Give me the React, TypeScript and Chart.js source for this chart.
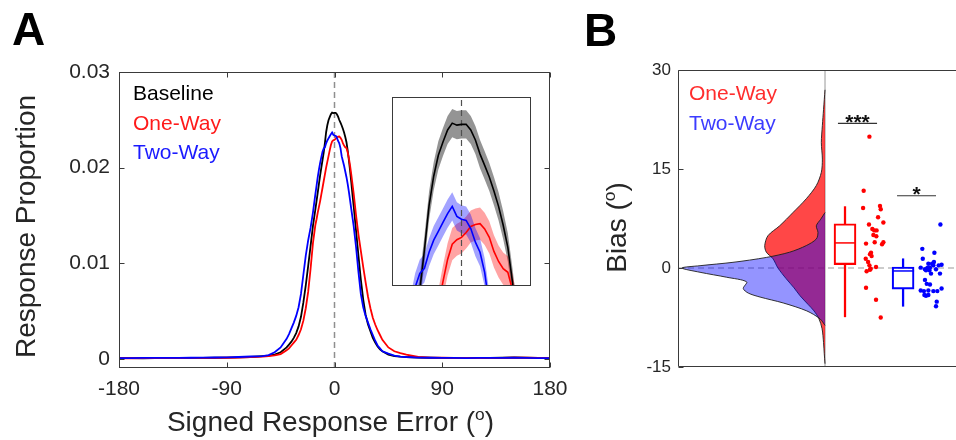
import React, { useEffect, useRef } from 'react';
import { Chart, registerables } from 'chart.js';

Chart.register(...registerables);

const FONT = '"Liberation Sans", Arial, Helvetica, sans-serif';
const TEXT = '#262626';
const AXIS = '#3a3a3a';
const TICK = 5;

// ---------------- Panel A data ----------------
const errorDeg = [
  -180, -170, -160, -150, -140, -130, -120, -110, -100, -90, -80, -70, -60, -55, -50, -45,
  -40, -38, -36, -34, -32, -30, -28, -26, -24, -22, -20, -18,
  -16, -15, -14, -13, -12, -11, -10, -9, -8, -7, -6, -5, -4, -3, -2, -1, 0,
  1, 2, 3, 4, 5, 6, 7, 8, 9, 10, 11, 12, 13, 14, 15, 16,
  18, 20, 22, 24, 26, 28, 30, 32, 34, 36, 38, 40,
  45, 50, 55, 60, 70, 80, 90, 100, 110, 120, 130, 140, 150, 160, 170, 180,
];
const baselineProp = [
  0.00008, 0.00008, 0.00007, 0.00008, 0.00009, 0.0001, 0.0001, 0.00011, 0.00012, 0.00014, 0.00016, 0.0002, 0.0003, 0.00035, 0.00045, 0.0007,
  0.0012, 0.0015, 0.0018, 0.0022, 0.0027, 0.0034, 0.0044, 0.0059, 0.0077, 0.0097, 0.0118, 0.0139,
  0.0156, 0.0165, 0.0174, 0.0183, 0.0192, 0.02, 0.0208, 0.0216, 0.0226, 0.0237, 0.02443, 0.02495, 0.02528, 0.02558, 0.02575, 0.0257, 0.02572,
  0.02572, 0.02558, 0.02533, 0.02498, 0.0247, 0.02441, 0.02406, 0.02368, 0.02321, 0.02266, 0.0218, 0.0208, 0.0197, 0.0185, 0.0172, 0.016,
  0.0134, 0.0108, 0.0083, 0.0062, 0.0046, 0.0036, 0.0029, 0.0022, 0.0017, 0.0013, 0.001, 0.0008,
  0.00045, 0.0003, 0.00024, 0.0002, 0.00015, 0.00012, 0.0001, 0.0001, 0.0001, 0.00009, 0.0001, 0.00012, 0.00015, 0.00014, 0.0001, 0.00009,
];
const oneWayProp = [
  0.00007, 0.00007, 0.00008, 0.00008, 0.00008, 0.00009, 0.0001, 0.0001, 0.00011, 0.00012, 0.00014, 0.00018, 0.00024, 0.0003, 0.00036, 0.0005,
  0.0009, 0.0011, 0.0014, 0.0017, 0.002, 0.0025, 0.0031, 0.004, 0.0053, 0.007, 0.0094, 0.0121,
  0.014, 0.0146, 0.0153, 0.0159, 0.0165, 0.0172, 0.0179, 0.0186, 0.0193, 0.02, 0.0206, 0.0212, 0.02181, 0.02236, 0.02274, 0.02285, 0.02291,
  0.02303, 0.02318, 0.02323, 0.02325, 0.02312, 0.02291, 0.02256, 0.02231, 0.02213, 0.02204, 0.0216, 0.021, 0.0202, 0.0193, 0.0183, 0.0173,
  0.015, 0.013, 0.0113, 0.0096, 0.008, 0.0065, 0.0053, 0.0043, 0.0036, 0.003, 0.0025, 0.002,
  0.0012, 0.0008, 0.0006, 0.00045, 0.0002, 0.00014, 0.00012, 0.0001, 0.0001, 0.00009, 0.0001, 0.00011, 0.00012, 0.00012, 0.0001, 0.00008,
];
const twoWayProp = [
  0.00009, 0.00009, 0.0001, 0.0001, 0.0001, 0.00011, 0.00012, 0.00013, 0.00015, 0.00017, 0.0002, 0.00025, 0.0003, 0.0004, 0.0007, 0.0012,
  0.0021, 0.0026, 0.0032, 0.0038, 0.0045, 0.0054, 0.0068, 0.0088, 0.0108, 0.0124, 0.0137, 0.0153,
  0.0172, 0.0181, 0.019, 0.0198, 0.0205, 0.0211, 0.02167, 0.02201, 0.02214, 0.02254, 0.02284, 0.02306, 0.02328, 0.0235, 0.02368, 0.02343, 0.02336,
  0.02333, 0.02313, 0.02279, 0.02254, 0.02204, 0.0212, 0.0207, 0.0202, 0.0196, 0.019, 0.0183, 0.0175, 0.0166, 0.0157, 0.0148, 0.0139,
  0.0117, 0.0091, 0.0068, 0.0054, 0.0045, 0.0038, 0.0031, 0.0025, 0.0019, 0.0014, 0.0011, 0.0008,
  0.00055, 0.00035, 0.00025, 0.0002, 0.00014, 0.00012, 0.0001, 0.0001, 0.00009, 0.0001, 0.0001, 0.00011, 0.00012, 0.0001, 0.00009, 0.00009,
];
const baselineSem = 0.00035;
const oneWaySem = 0.0004;
const twoWaySem = 0.00035;

const seriesNamesA = ['Baseline', 'One-Way', 'Two-Way'];
const xTicksA = [-180, -90, 0, 90, 180];
const yTicksA = [0, 0.01, 0.02, 0.03];
const yTickLabelsA = ['0', '0.01', '0.02', '0.03'];
const xLimA = [-180, 180];
const yLimA = [-0.00095, 0.03];
const xLimInset = [-15, 15];
const yLimInset = [0.0217, 0.0264];
const yTitleA = ['Response Proportion'];
const xTitleA = ['Signed Response Error (', 'o', ')'];

// ---------------- Panel B data ----------------
const oneWayViolinBias = [27, 24, 21.6, 19, 16.5, 14.5, 12.5, 10.5, 8.4, 6.4, 4.9, 3.4, 2.4, 1.4, 0, -1.6, -3, -4.2, -5.5, -6.5, -7.7, -9.2, -11.3, -13, -14.5];
const oneWayViolinDensity = [0, 0.01, 0.018, 0.025, 0.018, 0.025, 0.059, 0.127, 0.218, 0.308, 0.388, 0.41, 0.399, 0.354, 0.32, 0.265, 0.211, 0.17, 0.116, 0.075, 0.041, 0.02, 0.01, 0.005, 0];
const twoWayViolinBias = [8.4, 7.4, 6.4, 5.4, 4.4, 3.4, 2.4, 1.6, 0.86, 0.35, 0, -0.65, -1.4, -2.1, -3.1, -3.8, -4.4, -5.3, -6.5, -7.7, -8.7];
const twoWayViolinDensity = [0, 0.029, 0.059, 0.048, 0.059, 0.127, 0.24, 0.399, 0.626, 0.85, 0.973, 0.85, 0.669, 0.533, 0.556, 0.522, 0.442, 0.284, 0.124, 0.034, 0];

const oneWayJitter = [0.302, 0.263, 0.259, 0.374, 0.379, 0.361, 0.299, 0.397, 0.322, 0.335, 0.351, 0.329, 0.349, 0.279, 0.338, 0.397, 0.388, 0.313, 0.306, 0.317, 0.277, 0.293, 0.302, 0.311, 0.347, 0.283, 0.306, 0.279, 0.347, 0.379];
const oneWayBias = [19.9, 11.7, 9.1, 9.4, 8.9, 7.7, 6.6, 6.9, 5.9, 5.7, 5.7, 5.0, 4.8, 3.7, 3.9, 3.9, 3.6, 2.3, 2.1, 1.8, 1.4, 0.9, 0.4, -0.1, 0.15, -0.5, -0.26, -3.0, -4.8, -7.5];
const twoWayJitter = [0.785, 0.662, 0.744, 0.665, 0.741, 0.703, 0.728, 0.651, 0.68, 0.696, 0.714, 0.737, 0.773, 0.793, 0.687, 0.71, 0.755, 0.782, 0.721, 0.68, 0.692, 0.714, 0.651, 0.673, 0.703, 0.737, 0.764, 0.793, 0.676, 0.703, 0.687, 0.76, 0.755];
const twoWayBias = [6.6, 2.9, 2.3, 1.4, 0.9, 0.65, 0.65, 0.05, -0.2, 0, 0.05, 0.4, 0.4, 0.5, -0.35, -0.35, -0.2, -0.85, -0.85, -1.8, -2.4, -2.5, -3.4, -3.5, -3.4, -3.5, -3.5, -3.1, -4.1, -4.1, -4.2, -5.1, -5.8];

// [lower whisker, q1, median, q3, upper whisker]
const oneWayBoxStats = [-7.4, 0.5, 3.8, 6.7, 9.3];
const twoWayBoxStats = [-5.8, -3.2, -0.45, 0.15, 1.4];
const boxX = [0.136, 0.531];

const sigLabels = ['***', '*'];
const sigY = [21.9, 10.95];
const sigFrom = [0.088, 0.49];
const sigTo = [0.354, 0.755];

const seriesNamesB = ['One-Way', 'Two-Way'];
const yTicksB = [-15, 0, 15, 30];
const xLimB = [-1, 0.891];
const yLimB = [-15, 30];
const yTitleB = ['Bias (', 'o', ')'];

// ---------------- colours ----------------
const C_BASE = '#000000';
const C_ONE = '#ff0000';
const C_TWO = '#0000ff';
const legendColorsA = ['#000000', '#ff1a1a', '#1a1aff'];
const legendColorsB = ['#ff2d2d', '#3c3cff'];

const pts = (xs: number[], ys: number[]) => xs.map((x, i) => ({ x, y: ys[i] }));

function drawTitle(ctx: CanvasRenderingContext2D, cx: number, cy: number, size: number, parts: string[], vertical: boolean) {
  ctx.save();
  ctx.translate(cx, cy);
  if (vertical) ctx.rotate(-Math.PI / 2);
  const supSize = size * 0.62;
  const fonts = parts.map((_, i) => `${i === 1 ? supSize : size}px ${FONT}`);
  const widths = parts.map((p, i) => {
    ctx.font = fonts[i];
    return ctx.measureText(p).width;
  });
  let x = -widths.reduce((s, w) => s + w, 0) / 2;
  const base = size * 0.358;
  ctx.fillStyle = TEXT;
  ctx.textAlign = 'left';
  ctx.textBaseline = 'alphabetic';
  parts.forEach((p, i) => {
    ctx.font = fonts[i];
    ctx.fillText(p, x, i === 1 ? base - size * 0.4 : base);
    x += widths[i];
  });
  ctx.restore();
}

const crisp = (v: number) => Math.round(v) + 0.5;

const frameAPlugin = {
  id: 'frameA',
  afterDraw(chart: any) {
    const { ctx, chartArea: a, scales } = chart;
    const L = crisp(a.left), R = crisp(a.right - 1), T = crisp(a.top), B = crisp(a.bottom - 1);
    ctx.save();
    ctx.strokeStyle = AXIS;
    ctx.lineWidth = 1;
    ctx.strokeRect(L, T, R - L, B - T);
    ctx.beginPath();
    xTicksA.forEach((v) => {
      const p = crisp(scales.x.getPixelForValue(v));
      ctx.moveTo(p, B); ctx.lineTo(p, B - TICK);
      ctx.moveTo(p, T); ctx.lineTo(p, T + TICK);
    });
    yTicksA.forEach((v) => {
      const p = crisp(scales.y.getPixelForValue(v));
      ctx.moveTo(L, p); ctx.lineTo(L + TICK, p);
      ctx.moveTo(R, p); ctx.lineTo(R - TICK, p);
    });
    ctx.stroke();
    ctx.font = `21px ${FONT}`;
    ctx.textBaseline = 'middle';
    ctx.textAlign = 'left';
    seriesNamesA.forEach((n, i) => {
      ctx.fillStyle = legendColorsA[i];
      ctx.fillText(n, a.left + 14, a.top + 22.5 + i * 29.5);
    });
    drawTitle(ctx, a.left - 94.5, (a.top + a.bottom) / 2 + 6.5, 28, yTitleA, true);
    drawTitle(ctx, (a.left + a.right) / 2 - 4, a.bottom + 53, 28, xTitleA, false);
    ctx.font = `bold 46px ${FONT}`;
    ctx.fillStyle = '#000';
    ctx.textBaseline = 'alphabetic';
    ctx.fillText('A', 12, 45);
    ctx.restore();
  },
};

const insetPlugin = {
  id: 'insetFrame',
  beforeDraw(chart: any) {
    const { ctx, chartArea: a } = chart;
    ctx.save();
    ctx.fillStyle = '#ffffff';
    ctx.fillRect(a.left, a.top, a.right - a.left, a.bottom - a.top);
    ctx.restore();
  },
  afterDraw(chart: any) {
    const { ctx, chartArea: a } = chart;
    ctx.save();
    ctx.strokeStyle = AXIS;
    ctx.lineWidth = 1;
    ctx.strokeRect(crisp(a.left), crisp(a.top), Math.round(a.right - a.left) - 1, Math.round(a.bottom - a.top) - 1);
    ctx.restore();
  },
};

const frameBPlugin = {
  id: 'frameB',
  afterDraw(chart: any) {
    const { ctx, chartArea: a, scales } = chart;
    const L = crisp(a.left), T = crisp(a.top), B = crisp(a.bottom - 1);
    ctx.save();
    ctx.strokeStyle = AXIS;
    ctx.lineWidth = 1;
    ctx.beginPath();
    ctx.moveTo(a.right, T); ctx.lineTo(L, T); ctx.lineTo(L, B); ctx.lineTo(a.right, B);
    yTicksB.forEach((v) => {
      const p = crisp(scales.y.getPixelForValue(v));
      ctx.moveTo(L, p); ctx.lineTo(L + TICK, p);
    });
    ctx.stroke();
    // significance stars
    ctx.fillStyle = '#111';
    ctx.font = `bold 21px ${FONT}`;
    ctx.textAlign = 'center';
    ctx.textBaseline = 'alphabetic';
    sigLabels.forEach((s, i) => {
      const cx = (scales.x.getPixelForValue(sigFrom[i]) + scales.x.getPixelForValue(sigTo[i])) / 2;
      const cy = scales.y.getPixelForValue(sigY[i]) - 6.5;
      ctx.fillText(s, cx, cy + 12);
    });
    // legend
    ctx.font = `21px ${FONT}`;
    ctx.textAlign = 'left';
    ctx.textBaseline = 'middle';
    seriesNamesB.forEach((n, i) => {
      ctx.fillStyle = legendColorsB[i];
      ctx.fillText(n, a.left + 11, a.top + 24.5 + i * 29.5);
    });
    drawTitle(ctx, a.left - 62.2, (a.top + a.bottom) / 2 + 9, 28, yTitleB, true);
    ctx.font = `bold 46px ${FONT}`;
    ctx.fillStyle = '#000';
    ctx.textAlign = 'left';
    ctx.textBaseline = 'alphabetic';
    ctx.fillText('B', 4, 46);
    ctx.restore();
  },
};

function makeMain(canvas: HTMLCanvasElement) {
  const line = (label: string, ys: number[], color: string, order: number) => ({
    label, data: pts(errorDeg, ys), showLine: true, borderColor: color, borderWidth: 1.8,
    pointRadius: 0, tension: 0, order,
  });
  return new Chart(canvas, {
    type: 'scatter',
    data: {
      datasets: [
        line('Two-Way', twoWayProp, C_TWO, 1),
        line('One-Way', oneWayProp, C_ONE, 2),
        line('Baseline', baselineProp, C_BASE, 3),
        {
          label: 'zero', data: [{ x: 0, y: yLimA[0] }, { x: 0, y: yLimA[1] }], showLine: true,
          borderColor: '#8f8f8f', borderWidth: 1.5, borderDash: [6, 4], pointRadius: 0, order: 4,
        },
      ] as any,
    },
    options: {
      animation: false, responsive: false, events: [],
      layout: { autoPadding: false, padding: { left: 0, right: 30, top: 72, bottom: 0 } },
      plugins: { legend: { display: false }, tooltip: { enabled: false } },
      scales: {
        x: {
          type: 'linear', min: xLimA[0], max: xLimA[1],
          grid: { display: false, drawTicks: false }, border: { display: false },
          afterFit: (s: any) => { s.height = 72; },
          afterBuildTicks: (s: any) => { s.ticks = xTicksA.map((v) => ({ value: v })); },
          ticks: { padding: 9, color: TEXT, font: { family: FONT, size: 21 }, maxRotation: 0, callback: (v: any) => String(v) },
        },
        y: {
          type: 'linear', min: yLimA[0], max: yLimA[1],
          grid: { display: false, drawTicks: false }, border: { display: false },
          afterFit: (s: any) => { s.width = 119; },
          afterBuildTicks: (s: any) => { s.ticks = yTicksA.map((v) => ({ value: v })); },
          ticks: { padding: 9, color: TEXT, font: { family: FONT, size: 21 }, callback: (v: any) => yTickLabelsA[yTicksA.indexOf(v)] ?? '' },
        },
      },
    } as any,
    plugins: [frameAPlugin],
  });
}

function makeInset(canvas: HTMLCanvasElement) {
  const line = (ys: number[], color: string, order: number) => ({
    data: pts(errorDeg, ys), showLine: true, borderColor: color, borderWidth: 1.6, pointRadius: 0, tension: 0, order, clip: 0,
  });
  const band = (ys: number[], sem: number, sign: number, fill: any, color: string, order: number) => ({
    data: pts(errorDeg, ys.map((v) => v + sign * sem)), showLine: true, borderWidth: 0, borderColor: 'rgba(0,0,0,0)',
    backgroundColor: color, fill, pointRadius: 0, tension: 0, order, clip: 0,
  });
  return new Chart(canvas, {
    type: 'scatter',
    data: {
      datasets: [
        line(twoWayProp, C_TWO, 0),
        line(oneWayProp, C_ONE, 1),
        line(baselineProp, C_BASE, 2),
        {
          data: [{ x: 0, y: yLimInset[0] }, { x: 0, y: yLimInset[1] }], showLine: true,
          borderColor: '#505050', borderWidth: 1.2, borderDash: [6, 4], pointRadius: 0, order: 3,
        },
        band(baselineProp, baselineSem, 1, '+1', 'rgba(0,0,0,0.42)', 10),
        band(baselineProp, baselineSem, -1, false, 'rgba(0,0,0,0)', 20),
        band(oneWayProp, oneWaySem, 1, '+1', 'rgba(255,0,0,0.36)', 9),
        band(oneWayProp, oneWaySem, -1, false, 'rgba(0,0,0,0)', 20),
        band(twoWayProp, twoWaySem, 1, '+1', 'rgba(0,0,255,0.36)', 8),
        band(twoWayProp, twoWaySem, -1, false, 'rgba(0,0,0,0)', 20),
      ] as any,
    },
    options: {
      animation: false, responsive: false, events: [],
      layout: { autoPadding: false, padding: 0 },
      plugins: { legend: { display: false }, tooltip: { enabled: false } },
      scales: {
        x: { type: 'linear', display: false, min: xLimInset[0], max: xLimInset[1] },
        y: { type: 'linear', display: false, min: yLimInset[0], max: yLimInset[1] },
      },
    } as any,
    plugins: [insetPlugin],
  });
}

function makeB(canvas: HTMLCanvasElement) {
  const violin = (bias: number[], dens: number[], fillColor: string, order: number) => ({
    data: bias.map((b, i) => ({ x: -dens[i], y: b })), showLine: true, fill: 'shape',
    backgroundColor: fillColor, borderColor: '#1e1e1e', borderWidth: 0.9, pointRadius: 0, tension: 0.3, order,
  });
  const stats = [oneWayBoxStats, twoWayBoxStats];
  const boxColors = [C_ONE, C_TWO];
  return new Chart(canvas, {
    type: 'scatter',
    data: {
      datasets: [
        {
          data: pts(oneWayJitter, oneWayBias), pointRadius: 2.2, pointBackgroundColor: C_ONE, pointBorderWidth: 0, order: 0,
        },
        {
          data: pts(twoWayJitter, twoWayBias), pointRadius: 2.2, pointBackgroundColor: C_TWO, pointBorderWidth: 0, order: 0,
        },
        {
          data: stats.map((s, i) => ({ x: boxX[i], y: s[2] })), pointStyle: 'line', pointRadius: 11,
          pointBorderColor: boxColors, pointBorderWidth: 1.5, order: 1,
        },
        {
          type: 'bar', data: stats.map((s, i) => ({ x: boxX[i], y: [s[1], s[3]] })),
          backgroundColor: 'rgba(0,0,0,0)', borderColor: boxColors, borderWidth: 1.5, borderSkipped: false,
          barThickness: 22, grouped: false, order: 1,
        },
        {
          type: 'bar',
          data: [
            { x: boxX[0], y: [stats[0][3], stats[0][4]] }, { x: boxX[0], y: [stats[0][0], stats[0][1]] },
            { x: boxX[1], y: [stats[1][3], stats[1][4]] }, { x: boxX[1], y: [stats[1][0], stats[1][1]] },
          ],
          backgroundColor: [C_ONE, C_ONE, C_TWO, C_TWO], borderWidth: 0, barThickness: 1.6, grouped: false, order: 1,
        },
        ...sigY.map((v, i) => ({
          data: [{ x: sigFrom[i], y: v }, { x: sigTo[i], y: v }], showLine: true, borderColor: '#333',
          borderWidth: 1.2, pointRadius: 0, order: 1,
        })),
        violin(twoWayViolinBias, twoWayViolinDensity, 'rgba(0,0,255,0.42)', 4),
        violin(oneWayViolinBias, oneWayViolinDensity, 'rgba(255,0,0,0.72)', 5),
        {
          data: [{ x: xLimB[0], y: 0 }, { x: xLimB[1], y: 0 }], showLine: true, borderColor: '#9a9a9a',
          borderWidth: 1.2, borderDash: [6, 4], pointRadius: 0, order: 7,
        },
        {
          data: [{ x: 0, y: yLimB[0] }, { x: 0, y: yLimB[1] }], showLine: true, borderColor: '#a8a8a8',
          borderWidth: 1.2, pointRadius: 0, order: 8,
        },
      ] as any,
    },
    options: {
      animation: false, responsive: false, events: [],
      layout: { autoPadding: false, padding: { left: 0, right: 0, top: 70, bottom: 73 } },
      plugins: { legend: { display: false }, tooltip: { enabled: false } },
      scales: {
        x: { type: 'linear', display: false, min: xLimB[0], max: xLimB[1], offset: false },
        y: {
          type: 'linear', min: yLimB[0], max: yLimB[1],
          grid: { display: false, drawTicks: false }, border: { display: false },
          afterFit: (s: any) => { s.width = 98; },
          afterBuildTicks: (s: any) => { s.ticks = yTicksB.map((v) => ({ value: v })); },
          ticks: { padding: 7, color: TEXT, font: { family: FONT, size: 17 }, callback: (v: any) => String(v) },
        },
      },
    } as any,
    plugins: [frameBPlugin],
  });
}

export default function App() {
  const mainRef = useRef<HTMLCanvasElement>(null);
  const insetRef = useRef<HTMLCanvasElement>(null);
  const bRef = useRef<HTMLCanvasElement>(null);

  useEffect(() => {
    const charts = [makeMain(mainRef.current!), makeInset(insetRef.current!), makeB(bRef.current!)];
    return () => charts.forEach((c) => c.destroy());
  }, []);

  return (
    <div style={{ position: 'fixed', left: 0, top: 0, width: 956, height: 440, background: '#fff', overflow: 'hidden' }}>
      <canvas ref={mainRef} width={580} height={440} style={{ position: 'absolute', left: 0, top: 0 }} />
      <canvas ref={insetRef} width={139} height={189} style={{ position: 'absolute', left: 392, top: 97 }} />
      <canvas ref={bRef} width={376} height={440} style={{ position: 'absolute', left: 580, top: 0 }} />
    </div>
  );
}
